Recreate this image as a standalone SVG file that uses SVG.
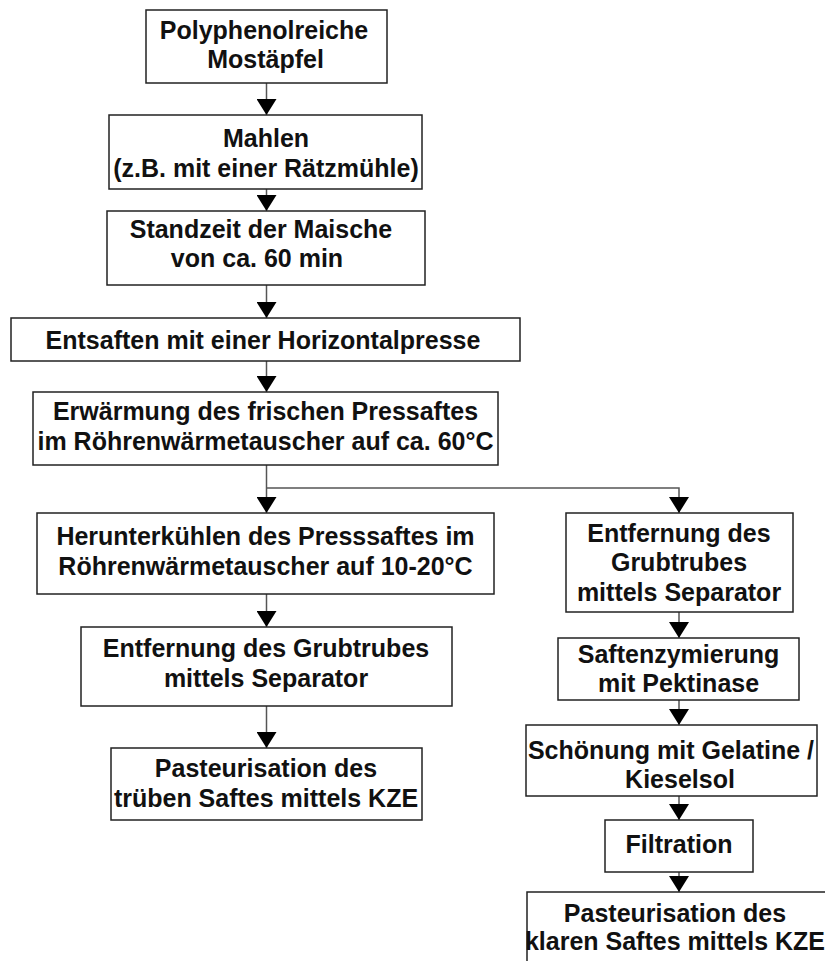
<svg xmlns="http://www.w3.org/2000/svg" width="825" height="961" viewBox="0 0 825 961">
<style>
.box{fill:#fff;stroke:#222;stroke-width:1.5}
.t{font-family:"Liberation Sans",Arial,sans-serif;font-weight:bold;font-size:25px;fill:#111;text-anchor:middle}
.c{fill:none;stroke:#555;stroke-width:1.5}
</style>
<defs>
<marker id="ah" markerUnits="userSpaceOnUse" markerWidth="16" markerHeight="20" refX="16" refY="10" orient="auto">
<path d="M0,0 L16,10 L0,20 z" fill="#000"/>
</marker>
</defs>
<rect width="825" height="961" fill="#fff"/>
<g id="connectors">
<path class="c" d="M266.5,83 V115" marker-end="url(#ah)"/>
<path class="c" d="M266.5,189 V211" marker-end="url(#ah)"/>
<path class="c" d="M266.5,285 V318" marker-end="url(#ah)"/>
<path class="c" d="M266.5,361 V392" marker-end="url(#ah)"/>
<path class="c" d="M266.5,465 V513" marker-end="url(#ah)"/>
<path class="c" d="M266.5,488 H679 V513" marker-end="url(#ah)"/>
<path class="c" d="M266.5,594 V627" marker-end="url(#ah)"/>
<path class="c" d="M266.5,706 V748" marker-end="url(#ah)"/>
<path class="c" d="M679,612 V638" marker-end="url(#ah)"/>
<path class="c" d="M679,700 V725" marker-end="url(#ah)"/>
<path class="c" d="M679,796 V820" marker-end="url(#ah)"/>
<path class="c" d="M679,872 V892" marker-end="url(#ah)"/>
</g>
<g id="n1"><rect class="box" x="146" y="10" width="241" height="73"/><text class="t" x="264" y="39">Polyphenolreiche</text><text class="t" x="265.5" y="68">Mostäpfel</text></g>
<g id="n2"><rect class="box" x="109" y="115" width="313" height="74"/><text class="t" x="266" y="147">Mahlen</text><text class="t" x="266" y="177">(z.B. mit einer Rätzmühle)</text></g>
<g id="n3"><rect class="box" x="107" y="211" width="318" height="74"/><text class="t" x="261" y="238">Standzeit der Maische</text><text class="t" x="257" y="267">von ca. 60 min</text></g>
<g id="n4"><rect class="box" x="11" y="318" width="509" height="43"/><text class="t" x="263" y="349">Entsaften mit einer Horizontalpresse</text></g>
<g id="n5"><rect class="box" x="33" y="392" width="465" height="73"/><text class="t" x="265.5" y="420">Erwärmung des frischen Pressaftes</text><text class="t" x="265.5" y="450">im Röhrenwärmetauscher auf ca. 60°C</text></g>
<g id="n6"><rect class="box" x="37" y="513" width="457" height="81"/><text class="t" x="265.5" y="545">Herunterkühlen des Presssaftes im</text><text class="t" x="265.5" y="575">Röhrenwärmetauscher auf 10-20°C</text></g>
<g id="n7"><rect class="box" x="81" y="627" width="371" height="79"/><text class="t" x="266" y="657">Entfernung des Grubtrubes</text><text class="t" x="266" y="687">mittels Separator</text></g>
<g id="n8"><rect class="box" x="111" y="748" width="311" height="72"/><text class="t" x="266" y="777">Pasteurisation des</text><text class="t" x="266" y="807">trüben Saftes mittels KZE</text></g>
<g id="r1"><rect class="box" x="566" y="513" width="227" height="99"/><text class="t" x="679" y="542">Entfernung des</text><text class="t" x="679" y="571">Grubtrubes</text><text class="t" x="679" y="601">mittels Separator</text></g>
<g id="r2"><rect class="box" x="558" y="638" width="241" height="62"/><text class="t" x="678.5" y="663">Saftenzymierung</text><text class="t" x="678.5" y="692">mit Pektinase</text></g>
<g id="r3"><rect class="box" x="526" y="725" width="291" height="71"/><text class="t" x="671" y="759">Schönung mit Gelatine /</text><text class="t" x="680" y="788">Kieselsol</text></g>
<g id="r4"><rect class="box" x="605" y="820" width="148" height="52"/><text class="t" x="679" y="853">Filtration</text></g>
<g id="r5"><rect class="box" x="527" y="892" width="310" height="80"/><text class="t" x="675" y="922">Pasteurisation des</text><text class="t" x="675" y="950">klaren Saftes mittels KZE</text></g>
</svg>
